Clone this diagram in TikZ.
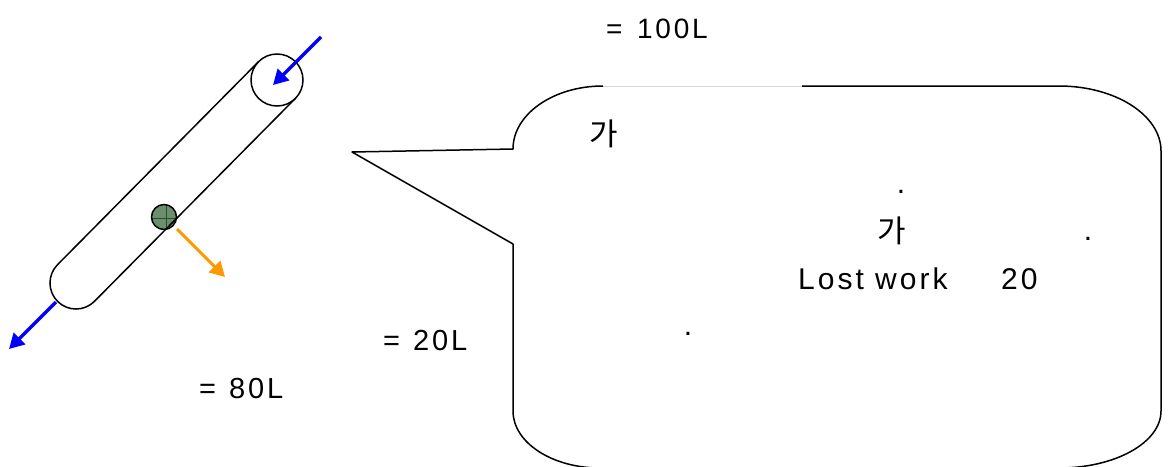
\documentclass[tikz,border=0pt]{standalone}
\usepackage{fontspec}
\setmainfont{Liberation Sans}[LetterSpace=10]
\newfontfamily\krfont{Noto Sans CJK KR}
\usetikzlibrary{arrows.meta}
\definecolor{arrblue}{RGB}{0,0,255}
\definecolor{arrorange}{RGB}{255,153,0}
\definecolor{ballfill}{RGB}{108,142,108}
\definecolor{balline}{RGB}{40,80,40}
\definecolor{faint}{RGB}{215,215,215}
\tikzset{
  outline/.style={line width=1.5pt, black, line join=round},
  flowarrow/.style={line width=3.2pt, -{Triangle[length=15pt,width=16pt]}},
  lblsmall/.style={inner sep=0pt, anchor=base west, font=\fontsize{28}{32}\selectfont},
  lblmid/.style={inner sep=0pt, anchor=base west, font=\fontsize{29}{33}\selectfont},
  lblbig/.style={inner sep=0pt, anchor=base west, font=\fontsize{30}{34}\selectfont},
  hangul/.style={inner sep=0pt, anchor=center, font=\krfont\fontsize{31}{35}\selectfont},
  dotlbl/.style={inner sep=0pt, anchor=center, font=\fontsize{30}{34}\selectfont},
}
\begin{document}
\begin{tikzpicture}[x=1pt,y=-1pt]
\useasboundingbox (0,0) rectangle (1169,466);
\clip (0,0) rectangle (1169,466);

% ---- pipe (capsule) ----
\coordinate (c1) at (277,80);
\coordinate (ul1) at (258.5,61.7);
\coordinate (ul2) at (57.5,264.7);
\coordinate (lr1) at (295.5,98.3);
\coordinate (lr2) at (94.5,301.3);
\coordinate (bm) at (57.7,301.5);

% ball
\coordinate (ball) at (164,217);
\fill[ballfill] (ball) circle[radius=12.5];
\draw[balline, line width=0.8pt] (151.5,218) -- (176.5,218);
\draw[balline, line width=0.8pt] (166,204.5) -- (166,229.5);

\draw[outline] (c1) circle[radius=26];
\draw[outline] (ul1) -- (ul2)
  .. controls (47.4,274.9) and (47.5,291.4) .. (bm)
  .. controls (67.9,311.6) and (84.4,311.5) .. (lr2) -- (lr1);
\draw[outline] (ball) circle[radius=12.5];

% arrows
\coordinate (inS) at (321,37);
\coordinate (inE) at (273,85);
\coordinate (outS) at (56,302);
\coordinate (outE) at (9,349);
\coordinate (lwS) at (177,229);
\coordinate (lwE) at (225,277);
\draw[flowarrow, arrblue] (inS) -- (inE);
\draw[flowarrow, arrblue] (outS) -- (outE);
\draw[flowarrow, arrorange, line width=3pt] (lwS) -- (lwE);

% ---- balloon ----
\coordinate (tip) at (352,152);
\coordinate (tA) at (513,149);
\coordinate (tB) at (513,244);
\coordinate (topL) at (603,86);
\coordinate (topM) at (802,86);
\draw[faint, line width=1pt] (topL) -- (topM);
\draw[outline] (topM) -- (1059,86)
  .. controls (1115.3,86) and (1161,115.1) .. (1161,151)
  -- (1161,411)
  .. controls (1161,442.5) and (1115.3,468) .. (1059,468)
  -- (600,468)
  .. controls (552,468) and (513,442.5) .. (513,411)
  -- (tB) -- (tip) -- (tA)
  .. controls (513,114.2) and (553.3,86) .. (topL);

% ---- texts ----
\node[lblsmall] (t100) at (606,38) {=\hspace{4pt} 100L};
\node[lblmid] (t20) at (383,350) {=\hspace{2pt} 20L};
\node[lblmid] (t80) at (199,398) {=\hspace{2pt} 80L};
\node[hangul] (ka1) at (604,134) {가};
\node[hangul] (ka2) at (892,231) {가};
\node[dotlbl] (d1) at (901,192) {.};
\node[dotlbl] (d2) at (1088,239) {.};
\node[dotlbl] (d3) at (688,334) {.};
\node[lblbig] (lost) at (798,289) {Lost work};
\node[lblbig] (n20) at (1001,289) {20};
\end{tikzpicture}
\end{document}
